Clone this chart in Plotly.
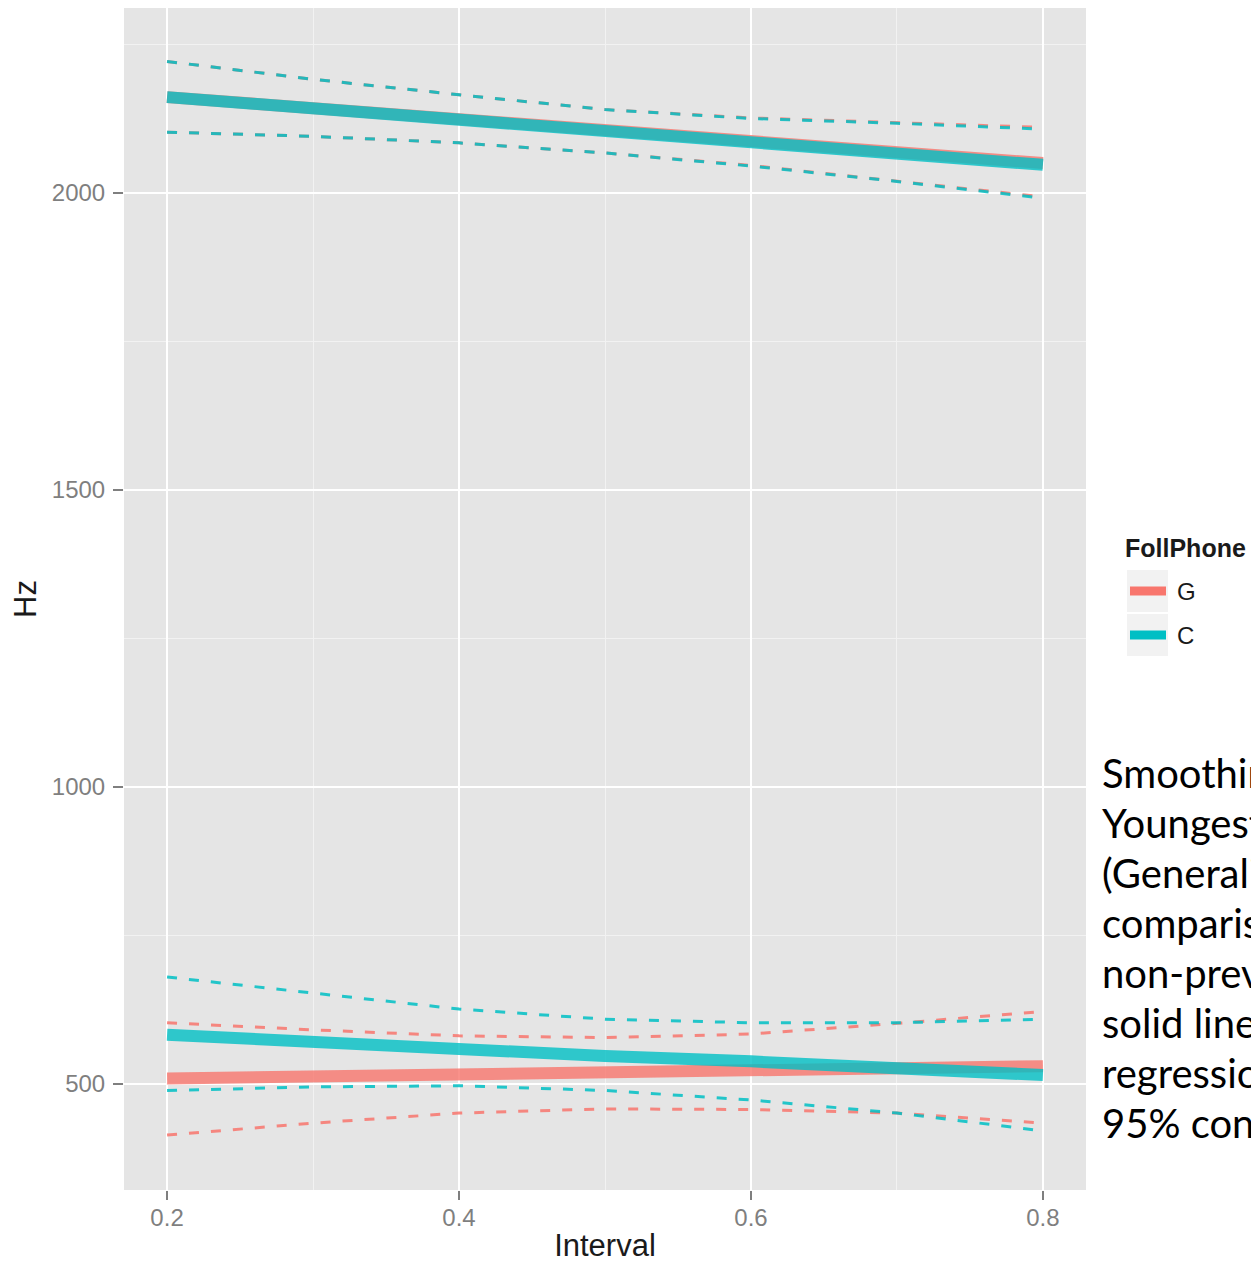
import plotly.graph_objects as go

# Normalised time within the vowel interval
INTERVAL = [0.2, 0.3, 0.4, 0.5, 0.6, 0.7, 0.8]

PHONES = ["G", "C"]
PHONE_COLORS = {"G": "#F8766D", "C": "#00BFC4"}

# Upper formant (F2) smooths and 95% confidence bounds, Hz
F2_FIT_G = [2161, 2142, 2123, 2105, 2087, 2068, 2050]
F2_HI_G = [2221, 2191, 2165, 2140, 2126, 2118, 2110]
F2_LO_G = [2102, 2095, 2084, 2067, 2046, 2020, 1993]

F2_FIT_C = [2161, 2142, 2123, 2105, 2086, 2066, 2047]
F2_HI_C = [2221, 2191, 2165, 2140, 2125, 2117, 2107]
F2_LO_C = [2102, 2095, 2084, 2067, 2045, 2019, 1991]

# Lower formant (F1) smooths and 95% confidence bounds, Hz
F1_FIT_G = [509, 513, 516, 520, 524, 527, 530]
F1_HI_G = [603, 591, 581, 578, 584, 602, 622]
F1_LO_G = [414, 434, 451, 458, 457, 451, 434]

F1_FIT_C = [583, 570, 557, 547, 538, 526, 515]
F1_HI_C = [680, 653, 626, 609, 603, 603, 609]
F1_LO_C = [489, 495, 497, 489, 473, 451, 421]

SERIES = {
    "G": {"fit": (F2_FIT_G, F1_FIT_G), "hi": (F2_HI_G, F1_HI_G), "lo": (F2_LO_G, F1_LO_G)},
    "C": {"fit": (F2_FIT_C, F1_FIT_C), "hi": (F2_HI_C, F1_HI_C), "lo": (F2_LO_C, F1_LO_C)},
}

X_TICKS = [0.2, 0.4, 0.6, 0.8]
X_TICK_TEXT = ["0.2", "0.4", "0.6", "0.8"]
X_MINOR = [0.3, 0.5, 0.7]
Y_TICKS = [500, 1000, 1500, 2000]
Y_TICK_TEXT = ["500", "1000", "1500", "2000"]
Y_MINOR = [750, 1250, 1750, 2250]

CAPTION = [
    "Smoothing",
    "Youngest",
    "(Generalized",
    "comparison",
    "non-prevocalic",
    "solid lines",
    "regression",
    "95% confidence",
]

W, H = 1251, 1263
M_L, M_R, M_T, M_B = 124, 165, 8, 73
PW, PH = W - M_L - M_R, H - M_T - M_B


def px(x):
    return (x - M_L) / PW


def py(y):
    return (H - M_B - y) / PH


def rgba(hex_color, a):
    h = hex_color.lstrip("#")
    r, g, b = int(h[0:2], 16), int(h[2:4], 16), int(h[4:6], 16)
    return f"rgba({r},{g},{b},{a})"


def joined(upper, lower):
    xs = list(INTERVAL) + [None] + list(INTERVAL)
    ys = list(upper) + [None] + list(lower)
    return xs, ys


fig = go.Figure()

for phone in PHONES:
    col = PHONE_COLORS[phone]
    s = SERIES[phone]
    for key in ("hi", "lo"):
        xs, ys = joined(*s[key])
        fig.add_trace(go.Scatter(
            x=xs, y=ys, mode="lines", showlegend=False, hoverinfo="skip",
            line=dict(color=rgba(col, 0.85), width=3, dash="10px,12px"),
        ))
    xs, ys = joined(*s["fit"])
    fig.add_trace(go.Scatter(
        x=xs, y=ys, mode="lines", name=phone, showlegend=False,
        line=dict(color=rgba(col, 0.8), width=12),
    ))

tick_font = dict(family="Liberation Sans, Arial, sans-serif", size=24, color="#7F7F7F")
title_font = dict(family="Liberation Sans, Arial, sans-serif", size=31, color="#1A1A1A")

fig.update_xaxes(
    range=[0.1705, 0.8295], tickvals=X_TICKS, ticktext=X_TICK_TEXT,
    showgrid=True, gridcolor="#FFFFFF", gridwidth=2, zeroline=False,
    ticks="outside", ticklen=9, tickwidth=2, tickcolor="#7F7F7F",
    tickfont=tick_font, showline=False, ticklabelstandoff=-3,
    minor=dict(tickvals=X_MINOR, showgrid=True, gridcolor="#F2F2F2", gridwidth=1),
    title=dict(text="Interval", font=title_font, standoff=6),
)
fig.update_yaxes(
    range=[321.5, 2311], tickvals=Y_TICKS, ticktext=Y_TICK_TEXT,
    showgrid=True, gridcolor="#FFFFFF", gridwidth=2, zeroline=False,
    ticks="outside", ticklen=10, tickwidth=2, tickcolor="#7F7F7F",
    tickfont=tick_font, showline=False, ticklabelstandoff=3,
    minor=dict(tickvals=Y_MINOR, showgrid=True, gridcolor="#F2F2F2", gridwidth=1),
    title=dict(text="Hz", font=title_font, standoff=5),
)

shapes = []
annotations = []

# Legend: title, grey key boxes with line swatches, labels
annotations.append(dict(
    text="<b>FollPhone</b>", xref="paper", yref="paper", x=px(1123), y=py(548),
    xanchor="left", yanchor="middle", showarrow=False,
    font=dict(family="Liberation Sans, Arial, sans-serif", size=25, color="#1A1A1A"),
))
for i, phone in enumerate(PHONES):
    top = 570 + i * 44
    shapes.append(dict(
        type="rect", xref="paper", yref="paper", layer="below",
        x0=px(1127), x1=px(1168), y0=py(top + 42), y1=py(top),
        fillcolor="#F2F2F2", line=dict(width=0),
    ))
    shapes.append(dict(
        type="line", xref="paper", yref="paper",
        x0=px(1130), x1=px(1166), y0=py(top + 21), y1=py(top + 21),
        line=dict(color=PHONE_COLORS[phone], width=9),
    ))
    annotations.append(dict(
        text=phone, xref="paper", yref="paper", x=px(1175), y=py(top + 21),
        xanchor="left", yanchor="middle", showarrow=False,
        font=dict(family="Liberation Sans, Arial, sans-serif", size=24, color="#1A1A1A"),
    ))

# Caption block on the right
for i, line in enumerate(CAPTION):
    annotations.append(dict(
        text=line, xref="paper", yref="paper", x=px(1100), y=py(790 + i * 50),
        xanchor="left", yanchor="bottom", showarrow=False, yshift=-9,
        font=dict(family="Lato, sans-serif", size=40, color="#000000"),
    ))

fig.update_layout(
    width=W, height=H,
    margin=dict(l=M_L, r=M_R, t=M_T, b=M_B, autoexpand=False),
    paper_bgcolor="#FFFFFF", plot_bgcolor="#E5E5E5",
    showlegend=False, shapes=shapes, annotations=annotations,
)

fig.write_html("out.html")
